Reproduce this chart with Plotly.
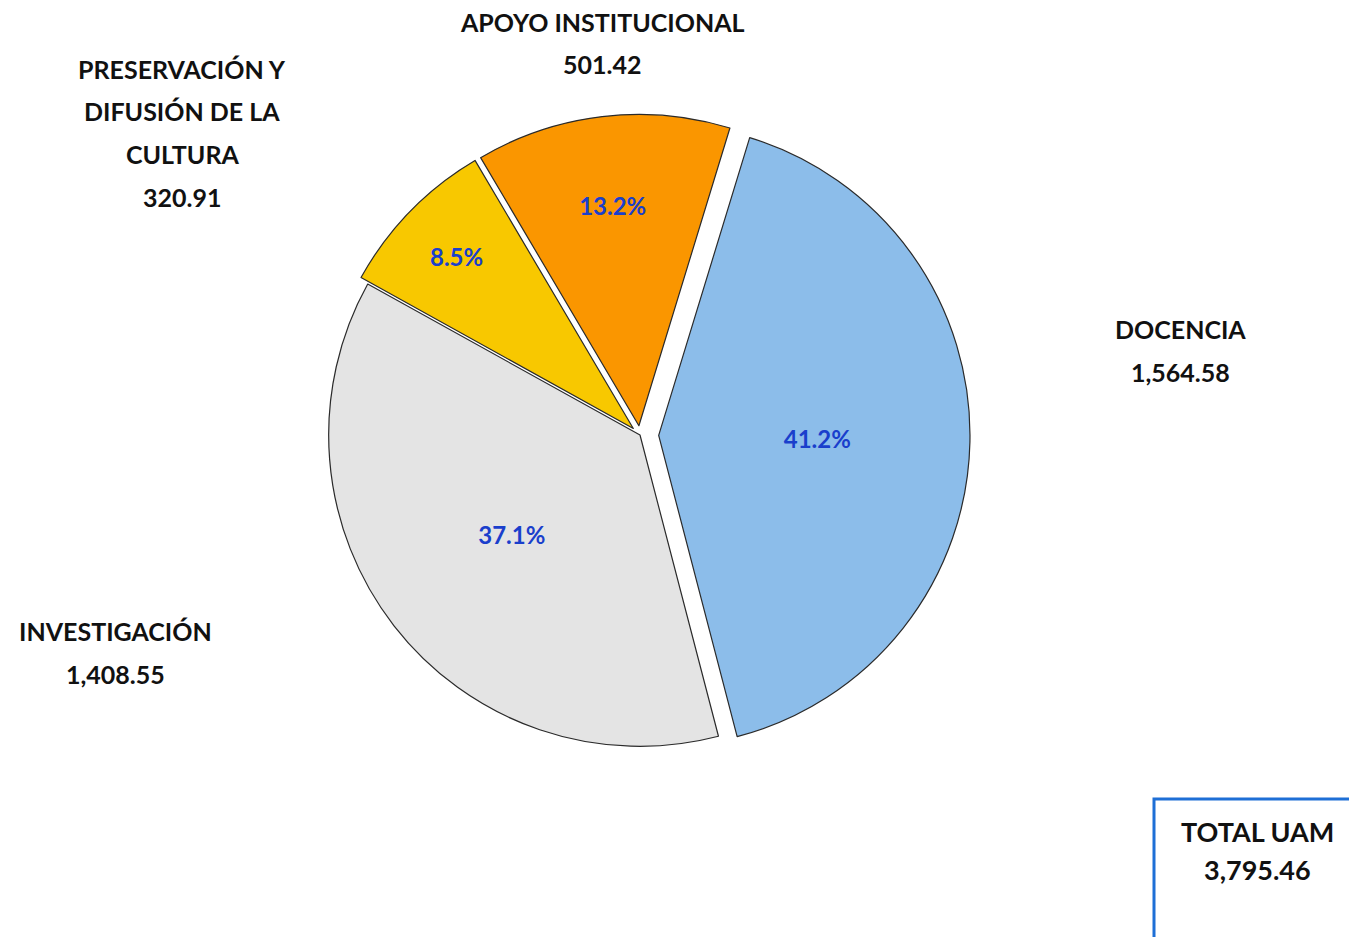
import plotly.graph_objects as go

categories = ["DOCENCIA", "INVESTIGACIÓN", "PRESERVACIÓN Y<br>DIFUSIÓN DE LA<br>CULTURA", "APOYO INSTITUCIONAL"]
values = [1564.58, 1408.55, 320.91, 501.42]
colors = ["#8CBDEA", "#E4E4E4", "#F8C800", "#FA9600"]
pulls = [0.06, 0.0, 0.03, 0.03]
total_label = "TOTAL UAM"

W, H = 1357, 937
OFF = 8  # page body margin offset

def px(x):
    return (x - OFF) / W

def py(y):
    return 1 - (y - OFF) / H

cx, cy, r = 640, 435, 330

fig = go.Figure()
fig.add_trace(go.Pie(
    labels=categories,
    values=values,
    sort=False,
    direction="clockwise",
    rotation=17,
    pull=pulls,
    marker=dict(colors=colors, line=dict(color="#2A2A2A", width=1.2)),
    texttemplate="%{percent:.1%}",
    textposition="inside",
    insidetextorientation="horizontal",
    textfont=dict(family="Lato", size=24, color="#1A3FCC", weight="bold"),
    showlegend=False,
    hoverinfo="label+value+percent",
    domain=dict(x=[px(cx - r), px(cx + r)], y=[py(cy + r), py(cy - r)]),
))

# category labels with values: one annotation per line for the wide line spacing
label_pos = [(1180, 329), (115, 631), (182, 69), (602, 22)]
line_gap = 42.5
for name, val, (x, y0) in zip(categories, values, label_pos):
    lines = name.split("<br>") + [f"{val:,.2f}"]
    for i, ln in enumerate(lines):
        fig.add_annotation(
            x=px(x), y=py(y0 + i * line_gap), xref="paper", yref="paper",
            text=f"<b>{ln}</b>",
            showarrow=False, align="center",
            font=dict(family="Lato", size=25, color="#111111"),
            xanchor="center", yanchor="middle",
        )

# total box
fig.add_shape(type="rect", xref="paper", yref="paper",
              x0=px(1154), x1=px(1370), y0=py(950), y1=py(799),
              line=dict(color="#1E6FD6", width=3), fillcolor="rgba(0,0,0,0)")
for i, ln in enumerate([total_label, f"{sum(values):,.2f}"]):
    fig.add_annotation(
        x=px(1257), y=py(831 + i * 38), xref="paper", yref="paper",
        text=f"<b>{ln}</b>",
        showarrow=False, align="center",
        font=dict(family="Lato", size=27, color="#111111"),
        xanchor="center", yanchor="middle",
    )

fig.update_layout(
    width=W, height=H,
    margin=dict(l=0, r=0, t=0, b=0),
    paper_bgcolor="white", plot_bgcolor="white",
)

fig.write_html("out.html")
